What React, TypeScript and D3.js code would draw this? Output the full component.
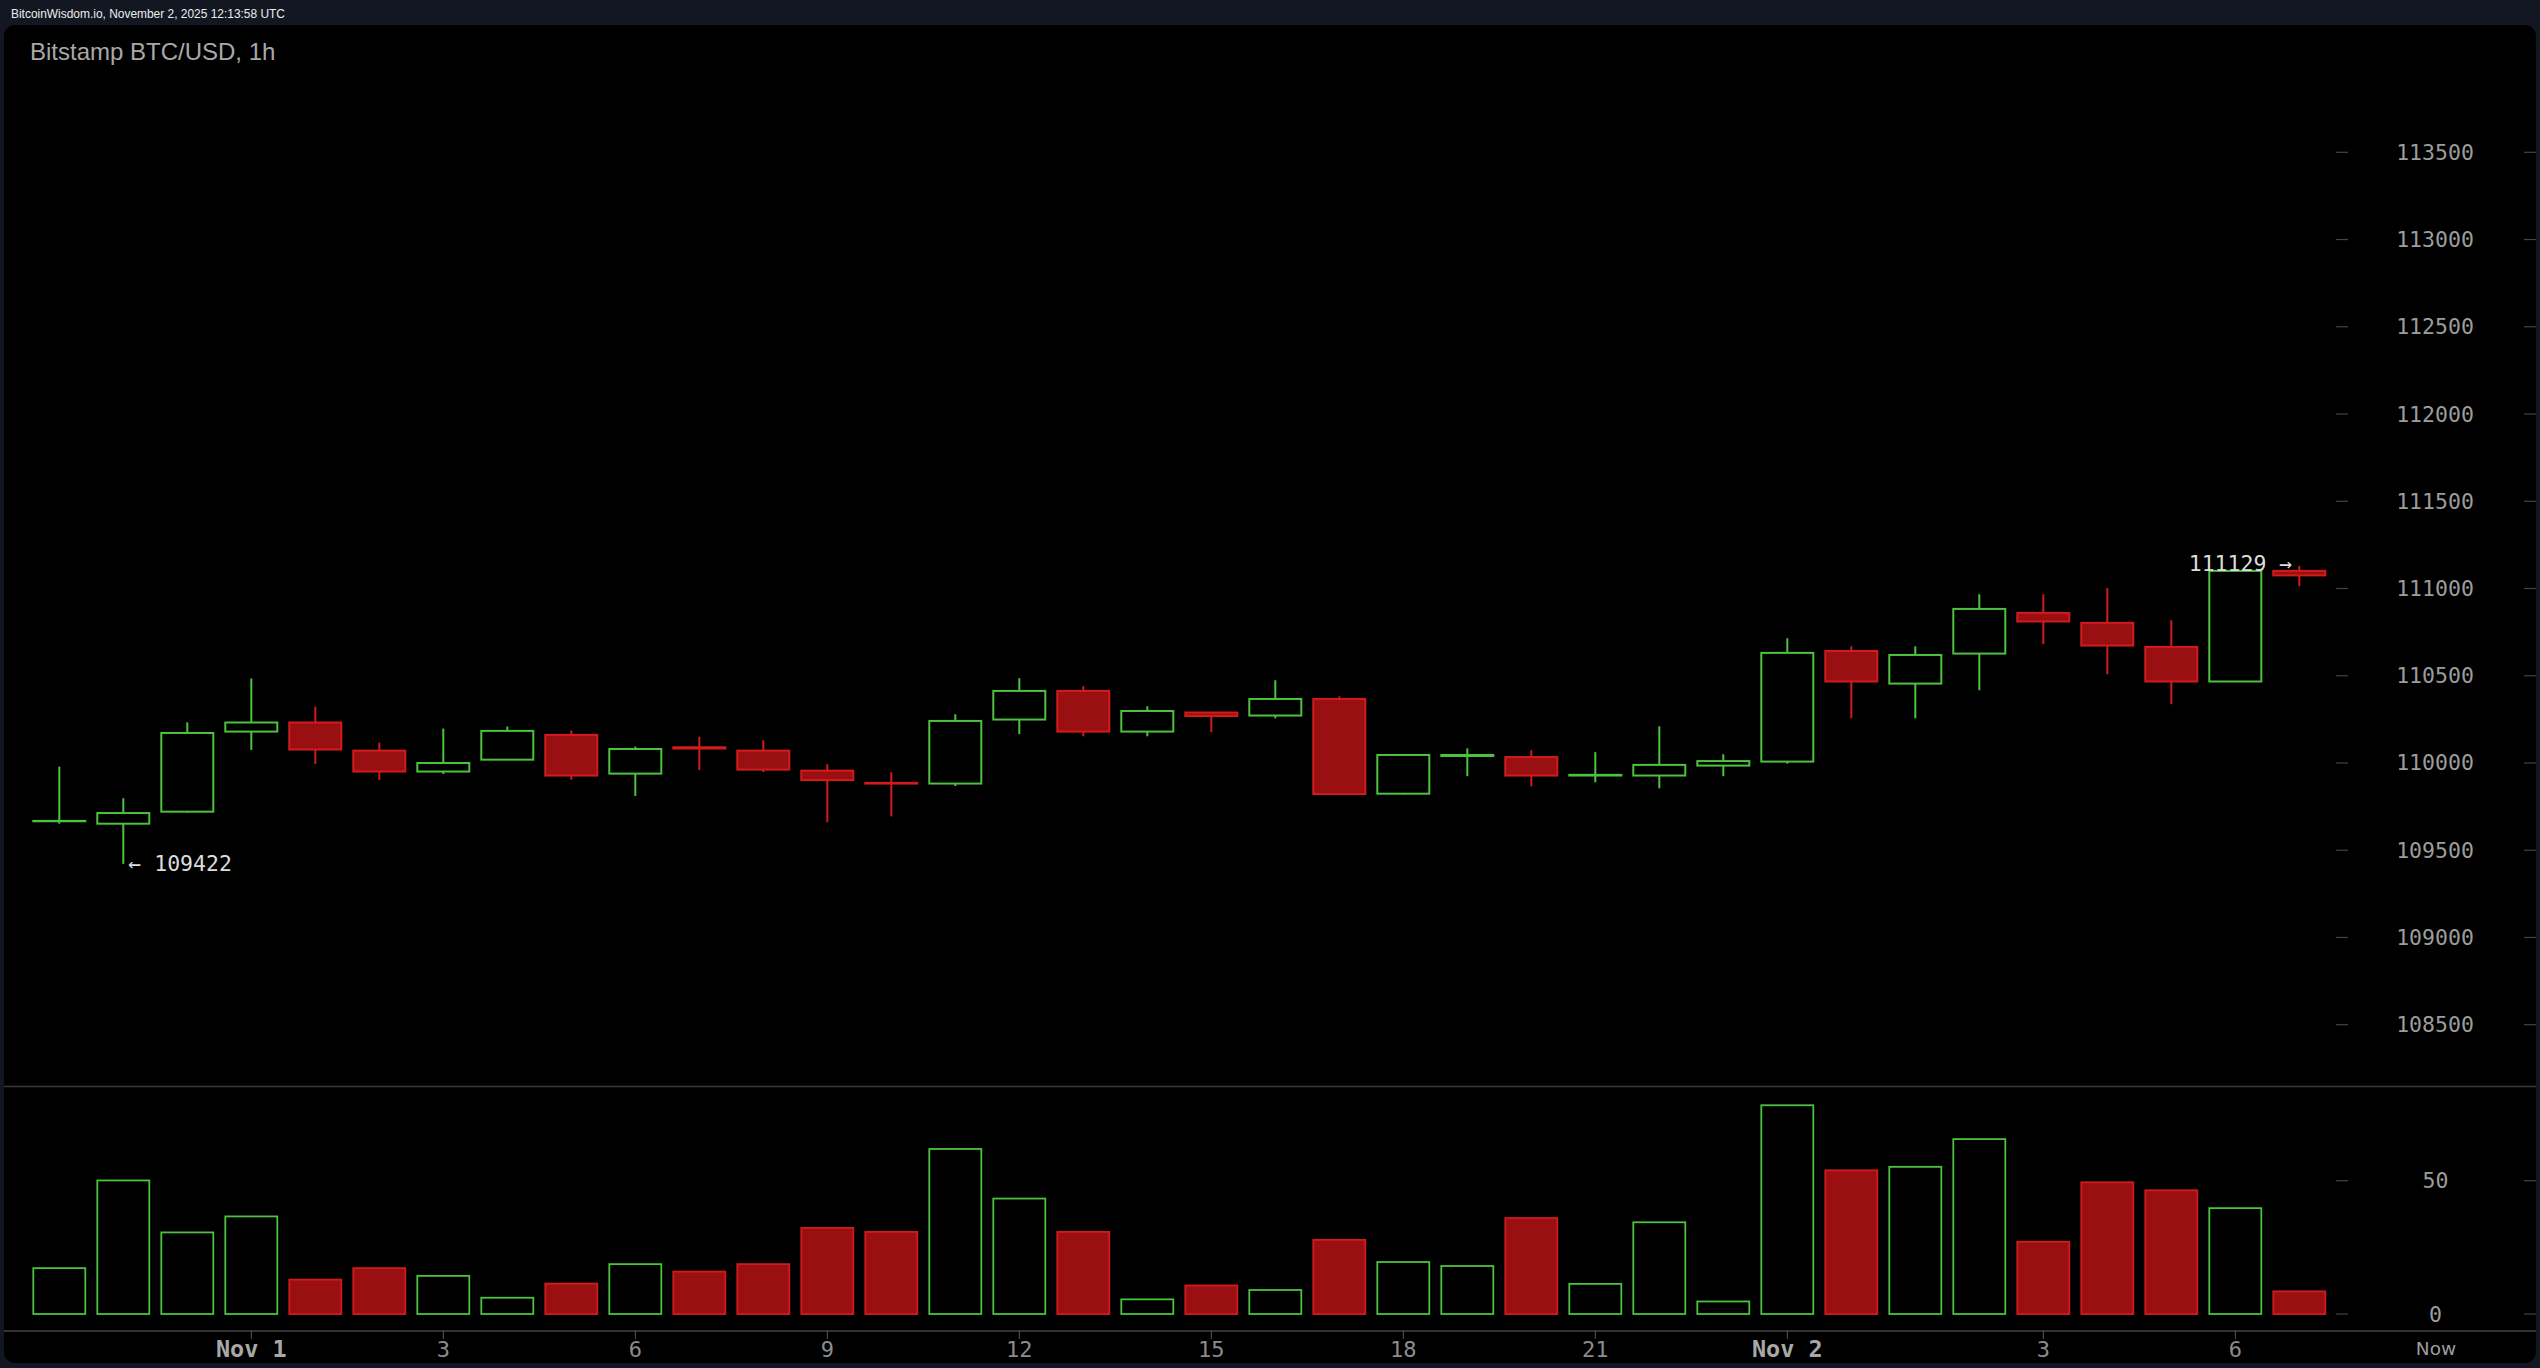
import React from "react";
import * as d3 from "d3";

const openP = [109666, 109652, 109721, 110180, 110232, 110071, 109951, 110019, 110161, 109939, 110090, 110071, 109956, 109886, 109882, 110249, 110413, 110180, 110289, 110272, 110367, 109824, 110040, 110034, 109928, 109928, 109985, 110008, 110642, 110455, 110627, 110860, 110803, 110665, 110467, 111101];
const closeP = [109668, 109713, 110172, 110232, 110077, 109951, 110000, 110184, 109928, 110080, 110083, 109962, 109902, 109882, 110241, 110413, 110180, 110298, 110269, 110367, 109822, 110046, 110046, 109928, 109932, 109989, 110011, 110631, 110467, 110619, 110883, 110811, 110673, 110467, 111101, 111075];
const highP = [109979, 109798, 110233, 110484, 110323, 110117, 110197, 110209, 110186, 110094, 110151, 110130, 109993, 109947, 110279, 110486, 110440, 110325, 110292, 110474, 110382, 110050, 110084, 110073, 110062, 110210, 110050, 110715, 110669, 110669, 110967, 110967, 111002, 110818, 111101, 111129];
const lowP = [109652, 109422, 109715, 110075, 109994, 109903, 109937, 110019, 109903, 109811, 109960, 109948, 109660, 109694, 109868, 110165, 110153, 110153, 110176, 110256, 109818, 109820, 109924, 109866, 109889, 109855, 109924, 109996, 110256, 110256, 110417, 110681, 110509, 110337, 110467, 111013];
const volume = [17.2, 50.1, 30.6, 36.6, 12.9, 17.2, 14.3, 6.1, 11.4, 18.7, 15.9, 18.7, 32.3, 30.8, 61.9, 43.3, 30.8, 5.5, 10.7, 9.0, 27.8, 19.5, 18.0, 36.0, 11.3, 34.4, 4.7, 78.3, 53.9, 55.2, 65.6, 27.1, 49.4, 46.4, 39.7, 8.5];

const priceTicks = [108500, 109000, 109500, 110000, 110500, 111000, 111500, 112000, 112500, 113000, 113500];
const volTicks = [0, 50];
const timeTicks = [
  { i: 3, label: "Nov 1", bold: true },
  { i: 6, label: "3", bold: false },
  { i: 9, label: "6", bold: false },
  { i: 12, label: "9", bold: false },
  { i: 15, label: "12", bold: false },
  { i: 18, label: "15", bold: false },
  { i: 21, label: "18", bold: false },
  { i: 24, label: "21", bold: false },
  { i: 27, label: "Nov 2", bold: true },
  { i: 31, label: "3", bold: false },
  { i: 34, label: "6", bold: false },
];

const W = 2540;
const H = 1368;
const GREEN = "#4cc23e";
const RED_STROKE = "#d21b1b";
const RED_FILL = "#9a0f12";
const MONO = "'DejaVu Sans Mono', monospace";

export default function App() {
  const n = openP.length;
  const x = d3.scaleLinear().domain([0, n - 1]).range([59.3, 59.3 + 64 * (n - 1)]);
  const y = d3.scaleLinear().domain([108500, 113500]).range([1024.7, 152.3]);
  const yv = d3.scaleLinear().domain([0, 50]).range([1314, 1180.7]);
  const bw = 52;

  const minIdx = d3.minIndex(lowP);
  const maxIdx = d3.maxIndex(highP);

  return (
    <svg width={W} height={H} style={{ position: "absolute", left: 0, top: 0, display: "block" }}>
      <rect x={0} y={0} width={W} height={H} fill="#131722" />
      <text x={11} y={18.3} fontFamily="'Liberation Sans', Arial, sans-serif" fontSize={12.4} textLength={274} lengthAdjust="spacingAndGlyphs" fill="#ececec">
        BitcoinWisdom.io, November 2, 2025 12:13:58 UTC
      </text>
      <rect x={4} y={25} width={2532} height={1338} rx={11} fill="#000" />
      <text x={30} y={60} fontFamily="'Liberation Sans', Arial, sans-serif" fontSize={24} fill="#a8a8a8">
        Bitstamp BTC/USD, 1h
      </text>

      {/* separators */}
      <line x1={4} x2={2536} y1={1086.5} y2={1086.5} stroke="#3a3a3a" strokeWidth={1.5} />
      <line x1={4} x2={2536} y1={1331} y2={1331} stroke="#444" strokeWidth={1.5} />

      {/* price axis */}
      {priceTicks.map((t) => (
        <g key={t}>
          <line x1={2336} x2={2348} y1={y(t)} y2={y(t)} stroke="#444" strokeWidth={1.2} />
          <line x1={2524} x2={2536} y1={y(t)} y2={y(t)} stroke="#444" strokeWidth={1.2} />
          <text x={2435} y={y(t)} textAnchor="middle" dominantBaseline="central" fontFamily={MONO} fontSize={21.5} fill="#9c9c9c">
            {t}
          </text>
        </g>
      ))}

      {/* volume axis */}
      {volTicks.map((t) => (
        <g key={t}>
          <line x1={2336} x2={2348} y1={yv(t)} y2={yv(t)} stroke="#444" strokeWidth={1.2} />
          <line x1={2524} x2={2536} y1={yv(t)} y2={yv(t)} stroke="#444" strokeWidth={1.2} />
          <text x={2435.5} y={yv(t)} textAnchor="middle" dominantBaseline="central" fontFamily={MONO} fontSize={21.5} fill="#9c9c9c">
            {t}
          </text>
        </g>
      ))}

      {/* time axis */}
      {timeTicks.map((t) => (
        <g key={t.i + t.label}>
          <line x1={x(t.i)} x2={x(t.i)} y1={1331} y2={1339} stroke="#555" strokeWidth={1} />
          <text x={x(t.i)} y={1357} textAnchor="middle" fontFamily={MONO} fontSize={t.bold ? 23.5 : 22} fontWeight={t.bold ? "bold" : "normal"} fill={t.bold ? "#a8a8a8" : "#8c8c8c"}>
            {t.label}
          </text>
        </g>
      ))}
      <text x={2436} y={1355} textAnchor="middle" fontFamily="'DejaVu Sans', sans-serif" fontSize={18.5} fill="#9c9c9c">
        Now
      </text>

      {/* candles */}
      {openP.map((o, i) => {
        const c = closeP[i];
        const up = c >= o;
        const cx = x(i);
        const top = y(Math.max(o, c));
        const bot = y(Math.min(o, c));
        const col = up ? GREEN : RED_STROKE;
        return (
          <g key={i}>
            {y(highP[i]) < top - 0.5 && (
              <line x1={cx} x2={cx} y1={y(highP[i])} y2={top} stroke={col} strokeWidth={2} />
            )}
            {y(lowP[i]) > bot + 0.5 && (
              <line x1={cx} x2={cx} y1={bot} y2={y(lowP[i])} stroke={col} strokeWidth={2} />
            )}
            <rect
              x={cx - bw / 2}
              y={top}
              width={bw}
              height={Math.max(0.01, bot - top)}
              fill={up ? "none" : RED_FILL}
              stroke={col}
              strokeWidth={2}
            />
          </g>
        );
      })}

      {/* volume bars */}
      {volume.map((v, i) => {
        const up = closeP[i] >= openP[i];
        const cx = x(i);
        return (
          <rect
            key={i}
            x={cx - bw / 2}
            y={yv(v)}
            width={bw}
            height={yv(0) - yv(v)}
            fill={up ? "none" : RED_FILL}
            stroke={up ? GREEN : RED_STROKE}
            strokeWidth={1.8}
          />
        );
      })}

      {/* extremes */}
      <text x={x(minIdx) + 5} y={y(lowP[minIdx])} dominantBaseline="central" fontFamily={MONO} fontSize={21.5} fill="#dcdcdc">
        {"← " + lowP[minIdx]}
      </text>
      <text x={x(maxIdx) - 7} y={y(highP[maxIdx]) - 2} textAnchor="end" dominantBaseline="central" fontFamily={MONO} fontSize={21.5} fill="#dcdcdc">
        {highP[maxIdx] + " →"}
      </text>
    </svg>
  );
}
